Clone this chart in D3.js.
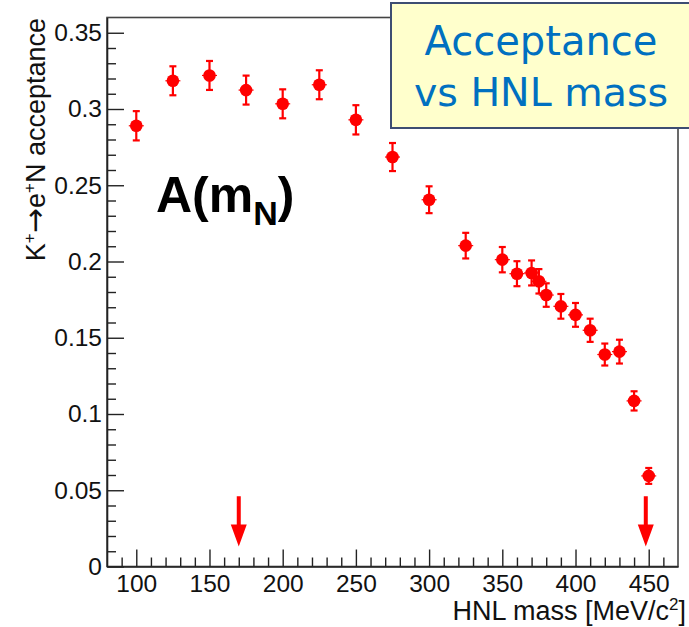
<!DOCTYPE html>
<html>
<head>
<meta charset="utf-8">
<script src="https://cdn.jsdelivr.net/npm/d3@7"></script>
<style>
  html, body { margin: 0; padding: 0; background: #fff; }
  svg { display: block; }
</style>
</head>
<body>
<script>
// HNL mass points (MeV/c^2) and the K+ -> e+ N acceptance with its uncertainty
const mass = [100, 125, 150, 175, 200, 225, 250, 275, 300, 325, 350, 360, 370, 375, 380, 390, 400, 410, 420, 430, 440, 450];
const acceptance = [0.289, 0.3185, 0.322, 0.3124, 0.3034, 0.3159, 0.2929, 0.2685, 0.2405, 0.2104, 0.2012, 0.192, 0.1925, 0.187, 0.178, 0.1706, 0.165, 0.1549, 0.139, 0.1409, 0.1086, 0.0594];
const acceptanceErr = [0.0096, 0.0095, 0.0095, 0.0095, 0.0095, 0.0095, 0.0096, 0.0092, 0.0088, 0.0084, 0.0083, 0.0082, 0.0082, 0.008, 0.0077, 0.0081, 0.0078, 0.0076, 0.0072, 0.0078, 0.0063, 0.0052];

// Mass-range limits marked with arrows, and the acceptance span each arrow covers
const arrowMass = [170, 448];
const arrowFrom = 0.046;
const arrowTo = 0.0131;

// Axis ticks
const xMajorTicks = [100, 150, 200, 250, 300, 350, 400, 450];
const xMinorTicks = d3.range(90, 470, 10).filter(v => !xMajorTicks.includes(v));
const yMajorTicks = [0, 0.05, 0.1, 0.15, 0.2, 0.25, 0.3, 0.35];
const yMinorTicks = d3.range(1, 36).map(i => i / 100).filter(v => !yMajorTicks.some(t => Math.abs(t - v) < 1e-9));

const W = 689, H = 627;
const svg = d3.select("body").append("svg").attr("width", W).attr("height", H);

const x = d3.scaleLinear().domain([80, 470]).range([107, 678]);
const y = d3.scaleLinear().domain([0, 0.36]).range([566.5, 17.5]);

const font = "'Liberation Sans', Arial, Helvetica, sans-serif";
const fmt = v => v === 0 ? "0" : String(+v.toFixed(2));

// Frame
svg.append("rect")
  .attr("x", x(80)).attr("y", y(0.36))
  .attr("width", x(470) - x(80)).attr("height", y(0) - y(0.36))
  .attr("fill", "none").attr("stroke", "#444").attr("stroke-width", 1.6);

// Y axis: majors with labels, minors inside the frame
svg.append("g").attr("transform", `translate(${x(80)},0)`)
  .call(d3.axisLeft(y).tickValues(yMajorTicks).tickFormat(fmt).tickSize(-17).tickSizeOuter(0).tickPadding(5));
svg.append("g").attr("transform", `translate(${x(80)},0)`)
  .call(d3.axisLeft(y).tickValues(yMinorTicks).tickFormat("").tickSize(-9).tickSizeOuter(0))
  .select(".domain").remove();

// X axis
svg.append("g").attr("transform", `translate(0,${y(0)})`)
  .call(d3.axisBottom(x).tickValues(xMajorTicks).tickFormat(d3.format("d")).tickSize(-17).tickSizeOuter(0).tickPadding(8));
svg.append("g").attr("transform", `translate(0,${y(0)})`)
  .call(d3.axisBottom(x).tickValues(xMinorTicks).tickFormat("").tickSize(-9).tickSizeOuter(0))
  .select(".domain").remove();

svg.selectAll(".tick line").attr("stroke", "#222").attr("stroke-width", 1.4);
svg.selectAll(".domain").attr("stroke", "#222").attr("stroke-width", 1.6);
svg.selectAll(".tick text").attr("font-family", font).attr("font-size", 24.5).attr("fill", "#111");

// Axis titles
const xTitle = svg.append("text")
  .attr("x", 686).attr("y", 620)
  .attr("text-anchor", "end")
  .attr("font-family", font).attr("font-size", 27).attr("fill", "#111");
xTitle.append("tspan").text("HNL mass [MeV/c");
xTitle.append("tspan").attr("dy", -10).attr("font-size", 17).text("2");
xTitle.append("tspan").attr("dy", 10).text("]");

const yTitle = svg.append("text")
  .attr("transform", "translate(45,18) rotate(-90)")
  .attr("text-anchor", "end")
  .attr("font-family", font).attr("font-size", 27).attr("fill", "#111");
yTitle.append("tspan").text("K");
yTitle.append("tspan").attr("dy", -10).attr("font-size", 17).text("+");
yTitle.append("tspan").attr("dy", 10).attr("font-family", "'DejaVu Sans', sans-serif").attr("font-size", 30).text("→");
yTitle.append("tspan").text("e");
yTitle.append("tspan").attr("dy", -10).attr("font-size", 17).text("+");
yTitle.append("tspan").attr("dy", 10).text("N acceptance");

// Data points with vertical error bars
const pts = mass.map((m, i) => ({ m, a: acceptance[i], e: acceptanceErr[i] }));
const red = "#ff0000";
const g = svg.append("g");
g.selectAll("line.err").data(pts).join("line").attr("class", "err")
  .attr("x1", d => x(d.m)).attr("x2", d => x(d.m))
  .attr("y1", d => y(d.a - d.e)).attr("y2", d => y(d.a + d.e))
  .attr("stroke", red).attr("stroke-width", 2.2);
g.selectAll("line.capTop").data(pts).join("line").attr("class", "capTop")
  .attr("x1", d => x(d.m) - 3.5).attr("x2", d => x(d.m) + 3.5)
  .attr("y1", d => y(d.a + d.e)).attr("y2", d => y(d.a + d.e))
  .attr("stroke", red).attr("stroke-width", 2.2);
g.selectAll("line.capBot").data(pts).join("line").attr("class", "capBot")
  .attr("x1", d => x(d.m) - 3.5).attr("x2", d => x(d.m) + 3.5)
  .attr("y1", d => y(d.a - d.e)).attr("y2", d => y(d.a - d.e))
  .attr("stroke", red).attr("stroke-width", 2.2);
g.selectAll("line.hbar").data(pts).join("line").attr("class", "hbar")
  .attr("x1", d => x(d.m) - 7.5).attr("x2", d => x(d.m) + 7.5)
  .attr("y1", d => y(d.a)).attr("y2", d => y(d.a))
  .attr("stroke", red).attr("stroke-width", 1.2);
g.selectAll("circle").data(pts).join("circle")
  .attr("cx", d => x(d.m)).attr("cy", d => y(d.a)).attr("r", 6.3)
  .attr("fill", red);

// Arrows marking the mass range limits
svg.append("g").selectAll("path").data(arrowMass).join("path")
  .attr("d", m => {
    const cx = x(m), y0 = y(arrowFrom), y1 = y(arrowTo);
    const headH = 22, shaftW = 2, headW = 8;
    return `M${cx - shaftW},${y0} L${cx + shaftW},${y0} L${cx + shaftW},${y1 - headH} L${cx + headW},${y1 - headH} L${cx},${y1} L${cx - headW},${y1 - headH} L${cx - shaftW},${y1 - headH} Z`;
  })
  .attr("fill", red);

// Formula label
const aLabel = svg.append("text")
  .attr("x", 156).attr("y", 212)
  .attr("font-family", font).attr("font-weight", "bold").attr("font-size", 50).attr("fill", "#000");
aLabel.append("tspan").text("A(m");
aLabel.append("tspan").attr("dy", 13).attr("font-size", 34).text("N");
aLabel.append("tspan").attr("dy", -13).text(")");

// Title box
svg.append("rect")
  .attr("x", 391).attr("y", 3).attr("width", 310).attr("height", 125)
  .attr("fill", "#ffffcc").attr("stroke", "#3d4d72").attr("stroke-width", 2);
const titleFont = "'DejaVu Sans', Verdana, sans-serif";
svg.append("text").attr("x", 541).attr("y", 55).attr("text-anchor", "middle")
  .attr("font-family", titleFont).attr("font-size", 40).attr("fill", "#0070c0")
  .text("Acceptance");
svg.append("text").attr("x", 541).attr("y", 106).attr("text-anchor", "middle")
  .attr("font-family", titleFont).attr("font-size", 39.5).attr("fill", "#0070c0")
  .text("vs HNL mass");
</script>
</body>
</html>
